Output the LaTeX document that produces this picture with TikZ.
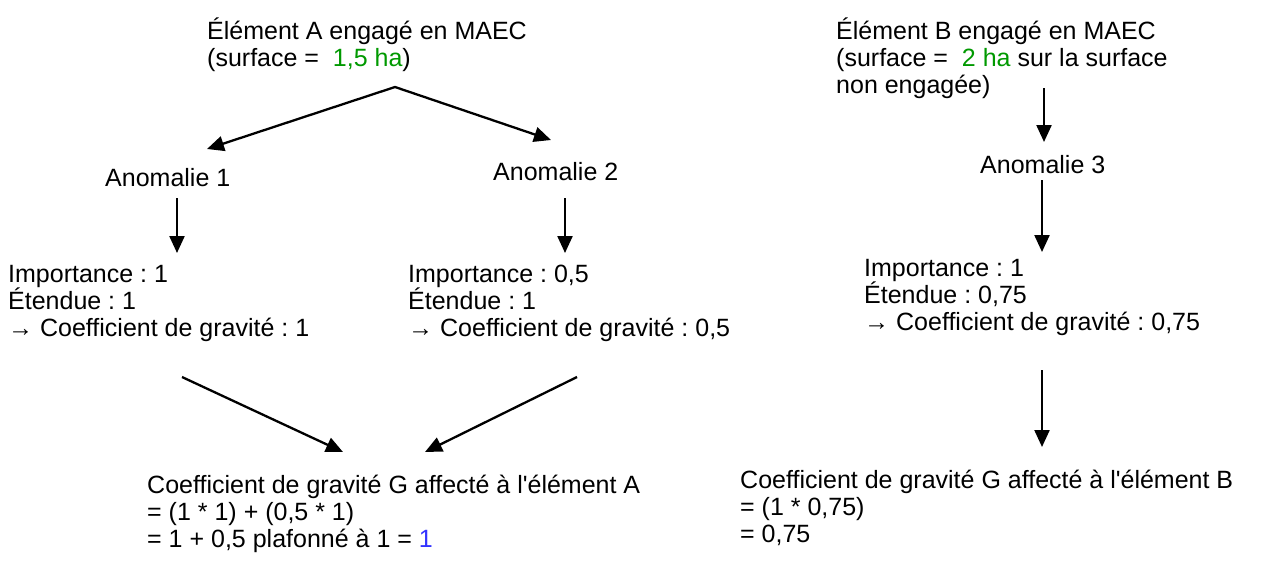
\documentclass[tikz,border=0pt]{standalone}
\usepackage{fontspec}
\setmainfont{Liberation Sans}[Ligatures=TeXOff]
\newfontfamily\arrowfont{Liberation Serif}
\newcommand{\resarrow}{{\arrowfont →}}
\usetikzlibrary{arrows.meta}
\definecolor{valgreen}{RGB}{0,153,0}
\definecolor{valblue}{RGB}{51,51,255}
\begin{document}
\begin{tikzpicture}[x=1pt,y=-1pt,
  txt/.style={anchor=base west, inner sep=0pt, align=left, font=\fontsize{25}{27}\selectfont\frenchspacing},
  arr/.style={line width=2.3pt, -{Triangle[length=17pt,width=15pt]}},
  darr/.style={line width=2.3pt, {Triangle[length=17pt,width=15pt]}-{Triangle[length=17pt,width=15pt]}}]
\useasboundingbox (0,0) rectangle (1281,563);
% texts (anchored at the baseline of their last line)
\node[txt] (elA) at (207,66) {Élément A engagé en MAEC\\(surface = \ \textcolor{valgreen}{1,5 ha})};
\node[txt] (elB) at (836,93) {Élément B engagé en MAEC\\(surface = \ \textcolor{valgreen}{2 ha} sur la surface\\non engagée)};
\node[txt] (an1) at (105,186) {Anomalie 1};
\node[txt] (an2) at (493,180) {Anomalie 2};
\node[txt] (an3) at (980,173) {Anomalie 3};
\node[txt] (imp1) at (8,336) {Importance : 1\\Étendue : 1\\\resarrow\ Coefficient de gravité : 1};
\node[txt] (imp2) at (408,336) {Importance : 0,5\\Étendue : 1\\\resarrow\ Coefficient de gravité : 0,5};
\node[txt] (imp3) at (864,330) {Importance : 1\\Étendue : 0,75\\\resarrow\ Coefficient de gravité : 0,75};
\node[txt] (resA) at (147,547) {Coefficient de gravité G affecté à l'élément A\\= (1 * 1) + (0,5 * 1)\\= 1 + 0,5 plafonné à 1 = \textcolor{valblue}{1}};
\node[txt] (resB) at (740,542) {Coefficient de gravité G affecté à l'élément B\\= (1 * 0,75)\\= 0,75};
% connector end points
\coordinate (forkA) at (395,87);
\coordinate (an1in) at (207,149);
\coordinate (an2in) at (551,140);
\coordinate (an1out) at (177,198);
\coordinate (imp1in) at (177,253);
\coordinate (an2out) at (565,198);
\coordinate (imp2in) at (565,253);
\coordinate (elBout) at (1044,88);
\coordinate (an3in) at (1044,142);
\coordinate (an3out) at (1042,180);
\coordinate (imp3in) at (1042,252);
\coordinate (imp1out) at (182,377);
\coordinate (imp2out) at (577,377);
\coordinate (resAin1) at (343,452);
\coordinate (resAin2) at (425,452);
\coordinate (imp3out) at (1042,370);
\coordinate (resBin) at (1042,447);
% connectors
\draw[darr] (an1in) -- (forkA) -- (an2in);
\draw[arr] (an1out) -- (imp1in);
\draw[arr] (an2out) -- (imp2in);
\draw[arr] (elBout) -- (an3in);
\draw[arr] (an3out) -- (imp3in);
\draw[arr] (imp1out) -- (resAin1);
\draw[arr] (imp2out) -- (resAin2);
\draw[arr] (imp3out) -- (resBin);
\end{tikzpicture}
\end{document}
